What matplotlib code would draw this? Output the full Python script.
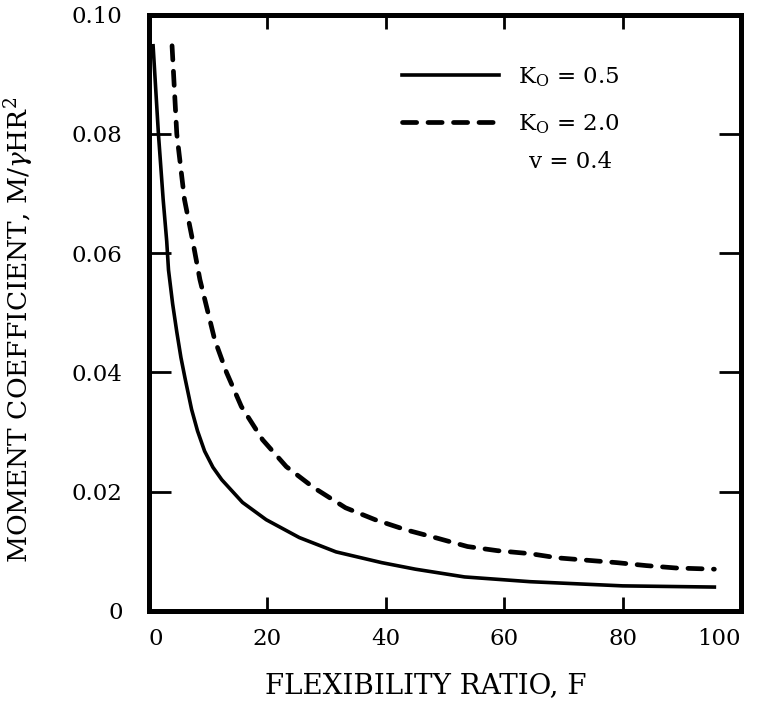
import matplotlib
matplotlib.use("Agg")
import matplotlib.pyplot as plt

plt.rcParams["font.family"] = ["DejaVu Serif"]
plt.rcParams["mathtext.fontset"] = "dejavuserif"

# flexibility ratio F vs moment coefficient M/(gamma H R^2)
F_k05 = [0.7, 1.6, 2.4, 3.0, 3.3, 4.0, 4.7, 5.4, 6.1, 7.2, 8.2, 9.4, 10.8, 12.3,
         15.8, 19.8, 25.4, 31.6, 39.3, 45.0, 53.3, 64.4, 80.0, 95.5]
M_k05 = [0.0948, 0.080, 0.069, 0.062, 0.0572, 0.0515, 0.0468, 0.0425, 0.0390,
         0.0338, 0.0302, 0.0268, 0.0241, 0.0220, 0.0182, 0.0153, 0.0123, 0.0099,
         0.0081, 0.0070, 0.0057, 0.0049, 0.0042, 0.0040]

F_k20 = [3.9, 4.7, 6.0, 7.4, 8.6, 11.1, 13.1, 15.6, 19.2, 23.2, 27.8, 33.2, 38.2,
         43.4, 48.7, 53.8, 58.9, 64.4, 69.0, 79.0, 84.0, 89.0, 95.5]
M_k20 = [0.0948, 0.080, 0.069, 0.062, 0.0556, 0.0455, 0.040, 0.0343, 0.0287,
         0.0242, 0.0207, 0.0173, 0.0153, 0.0136, 0.0122, 0.0108, 0.0101, 0.0096,
         0.0089, 0.0081, 0.0076, 0.0072, 0.0070]

labels = ["K$_{\\mathrm{O}}$ = 0.5", "K$_{\\mathrm{O}}$ = 2.0"]
note = "v = 0.4"
x_ticks = [0, 20, 40, 60, 80, 100]
y_ticks = [0, 0.02, 0.04, 0.06, 0.08, 0.10]
y_ticklabels = ["0", "0.02", "0.04", "0.06", "0.08", "0.10"]

fig = plt.figure(figsize=(7.6, 7.03), dpi=100)
ax = fig.add_axes([0.196, 0.131, 0.779, 0.848])

ax.plot(F_k05, M_k05, "-", color="black", lw=2.6, label=labels[0])
ax.plot(F_k20, M_k20, "--", color="black", lw=3.4, dashes=(3.0, 2.4),
        dash_capstyle="round", label=labels[1])

ax.set_xlim(0, 99.3)
ax.set_ylim(0, 0.0985)
ax.set_xticks(x_ticks)
ax.set_yticks(y_ticks)
ax.set_yticklabels(y_ticklabels)
ax.tick_params(direction="in", top=True, right=True, width=2, labelsize=16.5)
ax.tick_params(axis="y", pad=19, length=16)
ax.tick_params(axis="x", pad=12, length=10)
xlabels = ax.get_xticklabels()
xlabels[0].set_ha("left")
xlabels[-1].set_ha("right")
for sp in ax.spines.values():
    sp.set_linewidth(3.6)

ax.set_xlabel("FLEXIBILITY RATIO, F", fontsize=20)
ax.xaxis.set_label_coords(0.467, -0.103)
ax.set_ylabel("MOMENT COEFFICIENT, M/$\\gamma$HR$^2$", fontsize=19)
ax.yaxis.set_label_coords(-0.19, 0.471)

ax.legend(loc="upper left", bbox_to_anchor=(0.428, 0.915), frameon=False,
          borderpad=0, borderaxespad=0, fontsize=16.5, handlelength=4.2,
          handletextpad=0.85, labelspacing=1.0)
ax.text(0.712, 0.753, note, transform=ax.transAxes, fontsize=16.5,
        ha="center", va="center")

fig.savefig("out.png", dpi=100)
